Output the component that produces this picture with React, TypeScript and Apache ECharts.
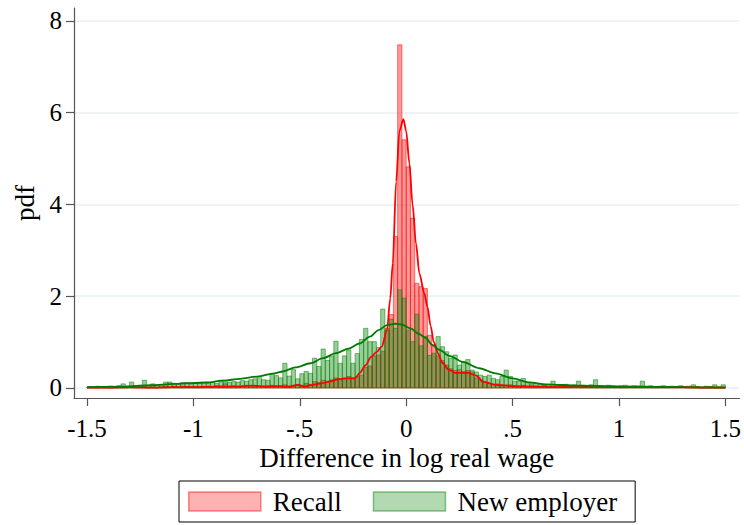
import React, { useEffect, useRef } from "react";
import * as echarts from "echarts";

// Histogram bins: 150 bins of width 0.02 starting at -1.5
const BIN_START = -1.5;
const BIN_WIDTH = 0.02;

// Density heights per bin, recall spells
const recallHeights = [
  0.02, 0.01, 0.02, 0.01, 0.02, 0.01, 0.02, 0.01, 0.02, 0.01,
  0.02, 0.01, 0.02, 0.03, 0.01, 0.02, 0.01, 0.02, 0.04, 0.02,
  0.03, 0.02, 0.04, 0.03, 0.02, 0.03, 0.02, 0.03, 0.04, 0.03,
  0.05, 0.04, 0.09, 0.04, 0.05, 0.03, 0.04, 0.06, 0.05, 0.04,
  0.03, 0.04, 0.05, 0.06, 0.04, 0.05, 0.07, 0.05, 0.06, 0.08,
  0.06, 0.10, 0.08, 0.14, 0.12, 0.17, 0.15, 0.18, 0.22, 0.20,
  0.22, 0.25, 0.22, 0.25, 0.28, 0.45, 0.48, 0.70, 0.72, 0.80,
  1.30, 1.60, 3.30, 7.48, 5.41, 4.82, 3.70, 2.28, 2.21, 2.17,
  1.15, 0.95, 0.70, 0.60, 0.50, 0.42, 0.38, 0.40, 0.36, 0.38,
  0.35, 0.22, 0.18, 0.12, 0.10, 0.08, 0.09, 0.07, 0.06, 0.07,
  0.05, 0.04, 0.06, 0.04, 0.05, 0.03, 0.04, 0.05, 0.03, 0.04,
  0.03, 0.04, 0.03, 0.05, 0.03, 0.04, 0.02, 0.03, 0.04, 0.02,
  0.03, 0.02, 0.04, 0.03, 0.02, 0.03, 0.02, 0.03, 0.02, 0.01,
  0.02, 0.03, 0.02, 0.01, 0.02, 0.03, 0.02, 0.01, 0.02, 0.03,
  0.02, 0.01, 0.02, 0.02, 0.01, 0.02, 0.03, 0.02, 0.01, 0.02,
];

// Density heights per bin, moves to a new employer
const newEmployerHeights = [
  0.03, 0.02, 0.04, 0.03, 0.02, 0.04, 0.03, 0.05, 0.09, 0.04,
  0.13, 0.05, 0.06, 0.17, 0.05, 0.09, 0.06, 0.07, 0.13, 0.13,
  0.07, 0.08, 0.12, 0.12, 0.08, 0.11, 0.10, 0.12, 0.11, 0.12,
  0.10, 0.17, 0.13, 0.12, 0.14, 0.13, 0.16, 0.15, 0.18, 0.20,
  0.25, 0.18, 0.17, 0.31, 0.27, 0.22, 0.54, 0.26, 0.40, 0.20,
  0.31, 0.36, 0.32, 0.65, 0.47, 0.85, 0.60, 0.70, 1.02, 0.54,
  0.70, 0.83, 0.54, 0.75, 1.06, 1.30, 1.01, 1.01, 0.88, 1.72,
  1.26, 1.50, 1.30, 2.14, 1.96, 1.26, 1.01, 1.61, 0.92, 1.12,
  0.71, 0.76, 1.12, 0.90, 0.79, 0.65, 0.72, 0.50, 0.57, 0.62,
  0.39, 0.35, 0.28, 0.25, 0.28, 0.21, 0.18, 0.25, 0.39, 0.25,
  0.15, 0.15, 0.21, 0.12, 0.08, 0.07, 0.09, 0.06, 0.08, 0.15,
  0.07, 0.06, 0.08, 0.05, 0.07, 0.15, 0.06, 0.05, 0.07, 0.18,
  0.05, 0.04, 0.06, 0.05, 0.04, 0.05, 0.06, 0.04, 0.05, 0.04,
  0.15, 0.04, 0.05, 0.03, 0.04, 0.05, 0.03, 0.04, 0.03, 0.05,
  0.03, 0.04, 0.07, 0.03, 0.02, 0.04, 0.03, 0.07, 0.03, 0.07,
];

// Kernel density estimates, [x, density]
const recallDensity: [number, number][] = [
  [-1.5, 0.01], [-1.4, 0.01], [-1.3, 0.02], [-1.2, 0.01], [-1.1, 0.02],
  [-1.0, 0.02], [-0.9, 0.03], [-0.8, 0.03], [-0.72, 0.05], [-0.66, 0.03],
  [-0.6, 0.04], [-0.55, 0.02], [-0.51, 0.07], [-0.48, 0.03], [-0.44, 0.07],
  [-0.4, 0.1], [-0.36, 0.14], [-0.32, 0.19], [-0.28, 0.21], [-0.24, 0.21],
  [-0.22, 0.32], [-0.19, 0.5], [-0.165, 0.68], [-0.14, 0.78], [-0.115, 0.9],
  [-0.09, 1.26], [-0.075, 1.95], [-0.063, 2.72], [-0.047, 4.5], [-0.032, 5.6],
  [-0.013, 5.86], [0.0, 5.6], [0.015, 4.9], [0.03, 4.0], [0.046, 3.15],
  [0.062, 2.5], [0.085, 2.06], [0.1, 1.77], [0.115, 1.35], [0.13, 1.0],
  [0.15, 0.75], [0.17, 0.55], [0.2, 0.4], [0.23, 0.33], [0.29, 0.33],
  [0.33, 0.27], [0.36, 0.14], [0.42, 0.07], [0.5, 0.04], [0.6, 0.03],
  [0.7, 0.02], [0.8, 0.03], [0.9, 0.02], [1.0, 0.02], [1.1, 0.03],
  [1.2, 0.02], [1.3, 0.02], [1.4, 0.01], [1.5, 0.01],
];

const newEmployerDensity: [number, number][] = [
  [-1.5, 0.02], [-1.33, 0.03], [-1.2, 0.06], [-1.09, 0.09], [-0.94, 0.12],
  [-0.86, 0.16], [-0.78, 0.2], [-0.7, 0.25], [-0.62, 0.32], [-0.58, 0.36],
  [-0.52, 0.45], [-0.45, 0.54], [-0.39, 0.65], [-0.33, 0.76], [-0.27, 0.86],
  [-0.22, 0.97], [-0.17, 1.12], [-0.13, 1.26], [-0.09, 1.37], [-0.05, 1.4],
  [-0.02, 1.38], [0.02, 1.3], [0.06, 1.18], [0.09, 1.1], [0.125, 0.93],
  [0.156, 0.83], [0.203, 0.7], [0.265, 0.57], [0.343, 0.43], [0.42, 0.32],
  [0.5, 0.21], [0.58, 0.12], [0.656, 0.08], [0.81, 0.05], [1.05, 0.03],
  [1.3, 0.02], [1.5, 0.01],
];

const xTicks = [-1.5, -1, -0.5, 0, 0.5, 1, 1.5];
const yTicks = [0, 2, 4, 6, 8];

const SERIF = "'Liberation Serif', 'Times New Roman', serif";

function binRows(heights: number[]) {
  return heights.map((h, i) => [
    BIN_START + i * BIN_WIDTH,
    BIN_START + (i + 1) * BIN_WIDTH,
    h,
  ]);
}

function histogramSeries(name: string, rows: number[][], fill: string, stroke: string) {
  return {
    name,
    type: "custom",
    data: rows,
    encode: { x: [0, 1], y: 2 },
    itemStyle: { color: fill, borderColor: stroke, borderWidth: 1 },
    renderItem: (_params: any, api: any) => {
      const topLeft = api.coord([api.value(0), api.value(2)]);
      const bottomRight = api.coord([api.value(1), 0]);
      return {
        type: "rect",
        shape: {
          x: topLeft[0],
          y: topLeft[1],
          width: bottomRight[0] - topLeft[0],
          height: bottomRight[1] - topLeft[1],
        },
        style: { fill, stroke, lineWidth: 1 },
      };
    },
  };
}

function formatTick(v: number) {
  if (v === 0) return "0";
  const sign = v < 0 ? "-" : "";
  return sign + String(Math.abs(v)).replace(/^0\./, ".");
}

export default function App() {
  const ref = useRef<HTMLDivElement>(null);

  useEffect(() => {
    if (!ref.current) return;
    const chart = echarts.init(ref.current, undefined, { renderer: "svg" });
    chart.setOption({
      animation: false,
      backgroundColor: "#ffffff",
      textStyle: { fontFamily: SERIF },
      grid: { left: 74, right: 4, top: 8, bottom: 127 },
      xAxis: {
        type: "value",
        min: -1.561,
        max: 1.566,
        name: "Difference in log real wage",
        nameLocation: "middle",
        nameGap: 48,
        nameMoveOverlap: false,
        nameTextStyle: { fontFamily: SERIF, fontSize: 27, lineHeight: 24, color: "#000" },
        axisLine: { show: true, onZero: false, lineStyle: { color: "#555", width: 1.2 } },
        axisTick: { show: true, length: 8, customValues: xTicks, lineStyle: { color: "#555", width: 1.2 } },
        axisLabel: {
          customValues: xTicks,
          formatter: (v: number) => formatTick(v),
          fontFamily: SERIF,
          fontSize: 25,
          lineHeight: 22,
          color: "#000",
          margin: 19,
        },
        splitLine: { show: false },
      },
      yAxis: {
        type: "value",
        min: -0.218,
        max: 8.283,
        name: "pdf",
        nameLocation: "middle",
        nameGap: 35,
        nameRotate: 90,
        nameTextStyle: { fontFamily: SERIF, fontSize: 27, color: "#000" },
        axisLine: { show: true, onZero: false, lineStyle: { color: "#555", width: 1.2 } },
        axisTick: { show: true, length: 8, customValues: yTicks, lineStyle: { color: "#555", width: 1.2 } },
        axisLabel: {
          customValues: yTicks,
          fontFamily: SERIF,
          fontSize: 25,
          color: "#000",
          margin: 12,
        },
        splitLine: { show: true, lineStyle: { color: "#e9eff2", width: 1.5 } },
      },
      legend: {
        left: 179,
        top: 481,
        orient: "horizontal",
        itemWidth: 72,
        itemHeight: 19,
        itemGap: 31,
        padding: [7, 18, 7, 9],
        borderColor: "#000",
        borderWidth: 1,
        icon: "rect",
        textStyle: { fontFamily: SERIF, fontSize: 27, color: "#000", padding: [0, 0, 0, 7] },
        data: [
          {
            name: "Recall",
            itemStyle: { color: "rgba(255,0,0,0.3)", borderColor: "rgba(255,0,0,0.45)", borderWidth: 1.5 },
          },
          {
            name: "New employer",
            itemStyle: { color: "rgba(0,128,0,0.3)", borderColor: "rgba(0,128,0,0.45)", borderWidth: 1.5 },
          },
        ],
      },
      series: [
        histogramSeries("Recall", binRows(recallHeights), "rgba(255,0,0,0.4)", "rgba(255,0,0,0.5)"),
        histogramSeries("New employer", binRows(newEmployerHeights), "rgba(0,128,0,0.4)", "rgba(0,128,0,0.5)"),
        {
          name: "Recall density",
          type: "line",
          data: recallDensity,
          smooth: 0.3,
          smoothMonotone: "x",
          showSymbol: false,
          lineStyle: { color: "#ff0000", width: 1.8 },
        },
        {
          name: "New employer density",
          type: "line",
          data: newEmployerDensity,
          smooth: 0.3,
          smoothMonotone: "x",
          showSymbol: false,
          lineStyle: { color: "#007a00", width: 1.8 },
        },
      ],
    });
    return () => chart.dispose();
  }, []);

  return (
    <div
      ref={ref}
      style={{ position: "fixed", left: 0, top: 0, width: 744, height: 525 }}
    />
  );
}
